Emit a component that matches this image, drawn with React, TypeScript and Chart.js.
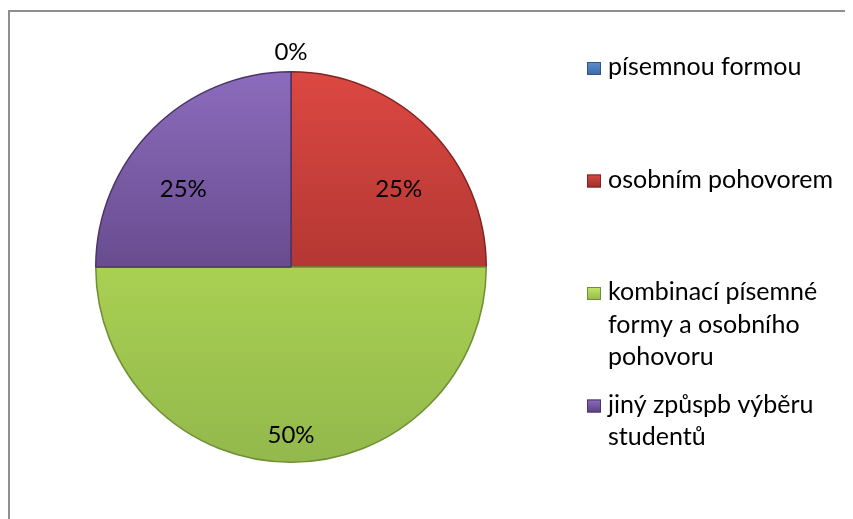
import { useEffect, useRef } from "react";
import { Chart, registerables } from "chart.js";

Chart.register(...registerables);

// ---- data ----
const categories: string[][] = [
  ["písemnou formou"],
  ["osobním pohovorem"],
  ["kombinací písemné", "formy a osobního", "pohovoru"],
  ["jiný způspb výběru", "studentů"],
];
const values: number[] = [0, 25, 50, 25];
const baseColors: string[] = ["#4f81bd", "#c0504d", "#9bbb59", "#8064a2"];
const gradTop: string[] = ["#5b8fd0", "#dc4842", "#c2e866", "#8c6cbd"];
const gradMid: string[] = ["#4a7ab5", "#b43733", "#a9d052", "#684c8f"];
const gradBottom: string[] = ["#3d6aa0", "#9a2d2a", "#93b84c", "#5a4080"];
const edgeColors: string[] = ["#2f5482", "#7e2522", "#6f8f35", "#4b3569"];

const FONT = "Lato, 'Open Sans', sans-serif";

const labelPlugin = {
  id: "pctLabels",
  afterDatasetsDraw(chart: any) {
    const ctx = chart.ctx;
    const meta = chart.getDatasetMeta(0);
    const total = values.reduce((a, b) => a + b, 0);
    ctx.save();
    ctx.font = `24px ${FONT}`;
    ctx.fillStyle = "#000";
    ctx.textAlign = "center";
    ctx.textBaseline = "middle";
    meta.data.forEach((arc: any, i: number) => {
      const p = arc.getProps(["x", "y", "startAngle", "endAngle", "outerRadius"], true);
      const mid = (p.startAngle + p.endAngle) / 2;
      const pct = Math.round((values[i] / total) * 100);
      let x: number, y: number;
      if (values[i] === 0) {
        x = p.x + Math.cos(mid) * (p.outerRadius + 19);
        y = p.y + Math.sin(mid) * (p.outerRadius + 19);
      } else {
        const fy = pct >= 50 ? 0.862 : 0.56;
        x = p.x + Math.cos(mid) * 0.78 * p.outerRadius;
        y = p.y + Math.sin(mid) * fy * p.outerRadius;
      }
      ctx.fillText(pct + "%", x, y);
    });
    ctx.restore();
  },
};

const legendPlugin = {
  id: "customLegend",
  afterDraw(chart: any) {
    const ctx = chart.ctx;
    ctx.save();
    ctx.font = `25px ${FONT}`;
    ctx.textBaseline = "alphabetic";
    ctx.textAlign = "left";
    const x0 = 579;
    const firstBase = 65;
    const itemStep = 112.5;
    const lineH = 32.5;
    categories.forEach((lines, i) => {
      const base = firstBase + i * itemStep;
      const sq = 13;
      const sy = base - 13;
      const g = ctx.createLinearGradient(0, sy, 0, sy + sq);
      g.addColorStop(0, gradTop[i]);
      g.addColorStop(1, gradBottom[i]);
      ctx.fillStyle = g;
      ctx.fillRect(x0, sy, sq + 1, sq);
      ctx.strokeStyle = edgeColors[i];
      ctx.lineWidth = 1;
      ctx.strokeRect(x0 + 0.5, sy + 0.5, sq, sq - 1);
      ctx.fillStyle = "#000";
      lines.forEach((t, j) => {
        ctx.fillText(t, 600, base + j * lineH);
      });
    });
    ctx.restore();
  },
};

const framePlugin = {
  id: "frame",
  afterDraw(chart: any) {
    const ctx = chart.ctx;
    ctx.save();
    ctx.fillStyle = "#8f8f8f";
    ctx.fillRect(0, 0, chart.width, 2);
    ctx.fillRect(0, 0, 2, chart.height);
    ctx.restore();
  },
};

export default function App() {
  const ref = useRef<HTMLCanvasElement | null>(null);
  useEffect(() => {
    if (!ref.current) return;
    const chart = new Chart(ref.current, {
      type: "pie",
      data: {
        labels: categories.map((l) => l.join(" ")),
        datasets: [
          {
            data: values,
            backgroundColor: (c: any) => {
              const area = c.chart.chartArea;
              const i = c.dataIndex;
              if (!area || i === undefined) return baseColors[i ?? 0];
              const g = c.chart.ctx.createLinearGradient(0, area.top, 0, area.bottom);
              g.addColorStop(0, gradTop[i]);
              g.addColorStop(0.5, gradMid[i]);
              g.addColorStop(1, gradBottom[i]);
              return g;
            },
            borderColor: edgeColors,
            borderWidth: 1.5,
          },
        ],
      },
      options: {
        responsive: false,
        animation: false,
        layout: { padding: { left: 87, top: 61, right: 366, bottom: 56 } },
        plugins: {
          legend: { display: false },
          tooltip: { enabled: false },
        },
      },
      plugins: [labelPlugin, legendPlugin, framePlugin],
    });
    return () => chart.destroy();
  }, []);
  return (
    <div style={{ marginTop: 2, width: 845, height: 509 }}>
      <canvas ref={ref} width={845} height={509} style={{ display: "block" }} />
    </div>
  );
}
